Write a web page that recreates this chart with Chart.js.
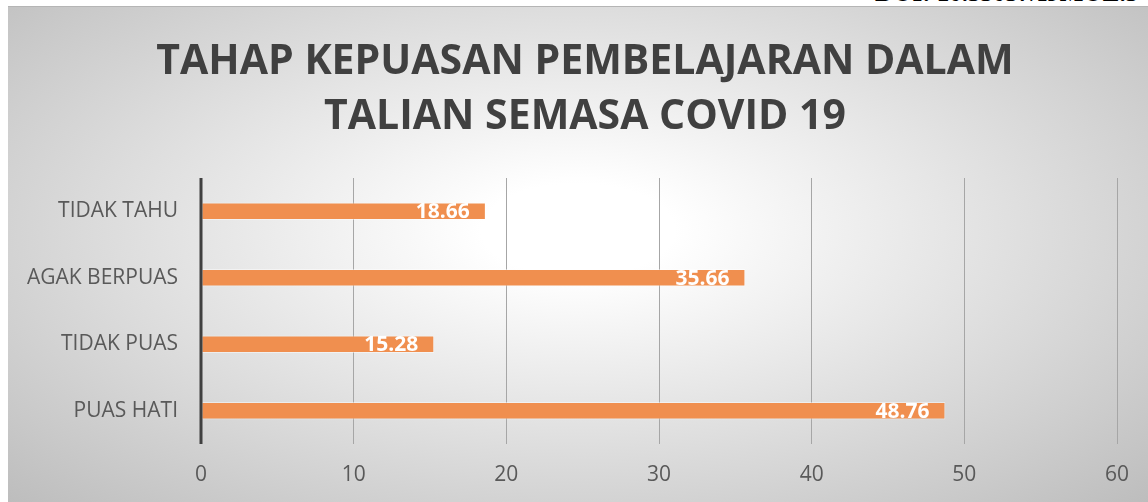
<!DOCTYPE html>
<html>
<head>
<meta charset="utf-8">
<script src="https://cdn.jsdelivr.net/npm/chart.js@4"></script>
<style>
  html, body { margin: 0; padding: 0; background: #ffffff; width: 1148px; height: 502px; overflow: hidden; position: relative; }
  .doi {
    position: absolute; left: 875px; top: -19px; white-space: nowrap; line-height: 24px;
    font-family: 'Liberation Serif', 'DejaVu Serif', serif; font-weight: bold; font-size: 25px; color: #000;
  }
  .panel {
    position: absolute; left: 8px; top: 6px; width: 1140px; height: 496px;
    border-top: 1px solid #b5b5b5; box-sizing: border-box;
    background: radial-gradient(ellipse farthest-corner at 50% 45%, #ffffff 0%, #ffffff 12%, #bdbdbd 100%);
  }
  .panel canvas { position: absolute; left: 0; top: 0; }
</style>
</head>
<body>
<div class="doi">DOI: 10.55057/IJMOE.3</div>
<div class="panel">
  <canvas id="chartKepuasan" width="1140" height="496"></canvas>
</div>
<script>
// Data
const TITLE_LINES = ['TAHAP KEPUASAN PEMBELAJARAN DALAM', 'TALIAN SEMASA COVID 19'];
const CATEGORIES = ['TIDAK TAHU', 'AGAK BERPUAS', 'TIDAK PUAS', 'PUAS HATI'];
const VALUES = [18.66, 35.66, 15.28, 48.76];
const X_MIN = 0;
const X_MAX = 60;
const X_STEP = 10;

const FONT = "'Open Sans', 'Noto Sans', sans-serif";

// Tajuk dua baris, dipusatkan pada panel
const titlePlugin = {
  id: 'titlePlugin',
  afterDraw(chart) {
    const { ctx } = chart;
    ctx.save();
    ctx.font = `bold 41px ${FONT}`;
    ctx.fillStyle = '#404040';
    ctx.textAlign = 'center';
    ctx.textBaseline = 'middle';
    TITLE_LINES.forEach((line, i) => {
      ctx.fillText(line, 577, 55 + i * 55);
    });
    ctx.restore();
  },
};

// Label putih di hujung dalam setiap bar
const insideEndLabels = {
  id: 'insideEndLabels',
  afterDatasetsDraw(chart) {
    const { ctx } = chart;
    const meta = chart.getDatasetMeta(0);
    ctx.save();
    ctx.font = `bold 21px ${FONT}`;
    ctx.fillStyle = '#ffffff';
    ctx.textAlign = 'right';
    ctx.textBaseline = 'middle';
    meta.data.forEach((bar, i) => {
      ctx.fillText(VALUES[i].toFixed(2), bar.x - 16, bar.y + 1);
    });
    ctx.restore();
  },
};

// Garis paksi Y tebal
const axisLine = {
  id: 'axisLine',
  afterDatasetsDraw(chart) {
    const { ctx, chartArea } = chart;
    ctx.save();
    ctx.strokeStyle = '#404040';
    ctx.lineWidth = 3;
    ctx.beginPath();
    ctx.moveTo(chartArea.left, chartArea.top);
    ctx.lineTo(chartArea.left, chartArea.bottom);
    ctx.stroke();
    ctx.restore();
  },
};

new Chart(document.getElementById('chartKepuasan'), {
  type: 'bar',
  data: {
    labels: CATEGORIES,
    datasets: [{
      data: VALUES,
      backgroundColor: '#f08f4f',
      borderColor: 'rgba(255,255,255,0.45)',
      borderWidth: 1,
      borderSkipped: false,
      barPercentage: 0.52,
      categoryPercentage: 0.5,
    }],
  },
  options: {
    indexAxis: 'y',
    responsive: false,
    animation: false,
    devicePixelRatio: 1,
    layout: { padding: { left: 0, right: 31, top: 171, bottom: 0 } },
    plugins: {
      legend: { display: false },
      tooltip: { enabled: false },
      title: { display: false },
    },
    scales: {
      x: {
        min: X_MIN,
        max: X_MAX,
        ticks: {
          stepSize: X_STEP,
          color: '#595959',
          font: { family: FONT, size: 21 },
          padding: 18,
        },
        grid: { color: '#a6a6a6', lineWidth: 1, drawTicks: false },
        border: { display: false },
        afterFit(scale) { scale.height = 59; },
      },
      y: {
        ticks: {
          color: '#595959',
          font: { family: FONT, size: 21 },
          padding: 23,
        },
        grid: { display: false, drawTicks: false },
        border: { display: false },
        afterFit(scale) { scale.width = 193; },
      },
    },
  },
  plugins: [insideEndLabels, axisLine, titlePlugin],
});
</script>
</body>
</html>
